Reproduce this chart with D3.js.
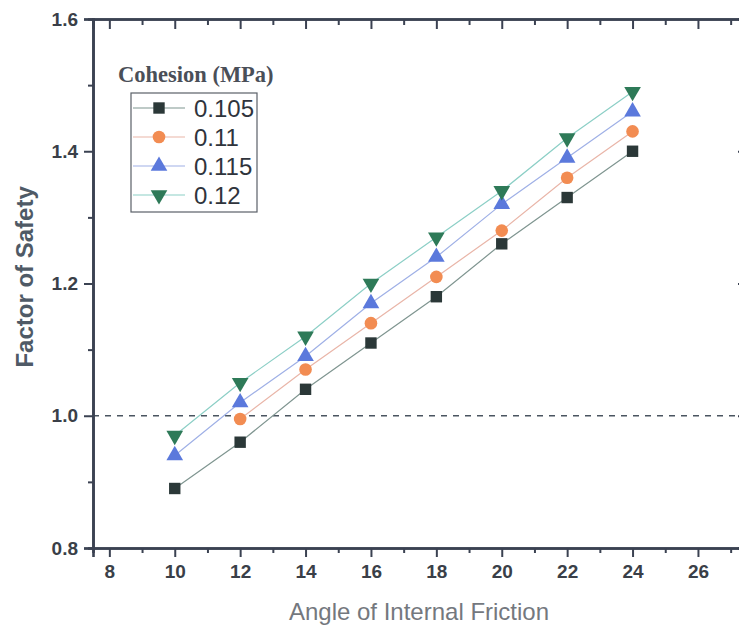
<!DOCTYPE html>
<html>
<head>
<meta charset="utf-8">
<script src="https://cdn.jsdelivr.net/npm/d3@7"></script>
<style>
  body { margin: 0; background: #fff; }
  text { font-family: "Liberation Sans", Arial, sans-serif; }
</style>
</head>
<body>
<div id="chart"></div>
<script>
const angles = [10, 12, 14, 16, 18, 20, 22, 24];
const cohesion = ["0.105", "0.11", "0.115", "0.12"];
const fs105 = [0.89, 0.96, 1.04, 1.11, 1.18, 1.26, 1.33, 1.40];
const fs110 = [null, 0.995, 1.07, 1.14, 1.21, 1.28, 1.36, 1.43];
const fs115 = [0.94, 1.02, 1.09, 1.17, 1.24, 1.32, 1.39, 1.46];
const fs120 = [0.97, 1.05, 1.12, 1.20, 1.27, 1.34, 1.42, 1.49];
const xTicks = [8, 10, 12, 14, 16, 18, 20, 22, 24, 26];
const yTicks = [0.8, 1.0, 1.2, 1.4, 1.6];

const W = 739, H = 627;
const margin = { top: 19, right: -8, bottom: 79, left: 93 };
const width = W - margin.left - margin.right;
const height = H - margin.top - margin.bottom;
const axisColor = "#3b4252";

const series = [
  { name: cohesion[0], values: fs105, symbol: d3.symbolSquare, size: 130, fill: "#2b3838", line: "#7f9590", rot: 0 },
  { name: cohesion[1], values: fs110, symbol: d3.symbolCircle, size: 125, fill: "#f28c52", line: "#e9b5a8", rot: 0 },
  { name: cohesion[2], values: fs115, symbol: d3.symbolTriangle, size: 120, fill: "#5b79dc", line: "#9fb0e6", rot: 0 },
  { name: cohesion[3], values: fs120, symbol: d3.symbolTriangle, size: 120, fill: "#2e7a58", line: "#8ccfc6", rot: 180 }
];

const svg = d3.select("#chart")
  .append("svg")
  .attr("width", W)
  .attr("height", H);

const g = svg.append("g")
  .attr("transform", `translate(${margin.left},${margin.top})`);

const x = d3.scaleLinear().domain([7.5, 27.5]).range([0, width]);
const y = d3.scaleLinear().domain([0.8, 1.6]).range([height, 0]);

// reference line at FS = 1.0
g.append("line")
  .attr("x1", 0).attr("x2", width)
  .attr("y1", y(1.0)).attr("y2", y(1.0))
  .attr("stroke", "#4a5560")
  .attr("stroke-width", 1.3)
  .attr("stroke-dasharray", "6,6");

// series lines
const line = d3.line()
  .defined(d => d.v != null)
  .x(d => x(d.a))
  .y(d => y(d.v));

series.forEach(s => {
  const pts = angles.map((a, i) => ({ a: a, v: s.values[i] }));
  g.append("path")
    .datum(pts)
    .attr("fill", "none")
    .attr("stroke", s.line)
    .attr("stroke-width", 1.2)
    .attr("d", line);
});

series.forEach(s => {
  const pts = angles.map((a, i) => ({ a: a, v: s.values[i] })).filter(d => d.v != null);
  g.selectAll(null)
    .data(pts)
    .enter()
    .append("path")
    .attr("d", d3.symbol().type(s.symbol).size(s.size))
    .attr("transform", d => `translate(${x(d.a)},${y(d.v)}) rotate(${s.rot})`)
    .attr("fill", s.fill);
});

// axes
const minorX = d3.range(9, 28, 2);
const minorY = [0.9, 1.1, 1.3, 1.5];

g.append("g")
  .attr("transform", `translate(0,${height})`)
  .call(d3.axisBottom(x).tickValues(xTicks).tickFormat(d3.format("d")).tickSize(9).tickPadding(8));
g.append("g")
  .attr("transform", `translate(0,${height})`)
  .call(d3.axisBottom(x).tickValues(minorX).tickFormat("").tickSize(5));

g.append("g")
  .call(d3.axisLeft(y).tickValues(yTicks).tickFormat(d3.format(".1f")).tickSize(9).tickPadding(6));
g.append("g")
  .call(d3.axisLeft(y).tickValues(minorY).tickFormat("").tickSize(5));

// top frame with inward ticks
g.append("g")
  .call(d3.axisTop(x).tickValues(xTicks).tickFormat("").tickSize(-10));
g.append("g")
  .call(d3.axisTop(x).tickValues(minorX).tickFormat("").tickSize(-6));

// right frame (mostly outside view)
g.append("g")
  .attr("transform", `translate(${width},0)`)
  .call(d3.axisRight(y).tickValues(yTicks).tickFormat("").tickSize(-9));

g.selectAll(".domain").attr("stroke", axisColor).attr("stroke-width", 2.6);
g.selectAll(".tick line").attr("stroke", axisColor).attr("stroke-width", 2);
g.selectAll(".tick text")
  .attr("fill", "#3a3f48")
  .attr("font-size", 19)
  .attr("font-weight", "bold")
  .style("font-family", "'Liberation Sans', Arial, sans-serif");

// axis titles
svg.append("text")
  .attr("x", 419)
  .attr("y", 620)
  .attr("text-anchor", "middle")
  .attr("font-size", 24)
  .attr("fill", "#74787e")
  .text("Angle of Internal Friction");

svg.append("text")
  .attr("transform", `translate(33,${margin.top + y(1.21)}) rotate(-90)`)
  .attr("text-anchor", "middle")
  .attr("font-size", 24)
  .attr("font-weight", "bold")
  .attr("fill", "#4f5a66")
  .text("Factor of Safety");

// legend
const legend = svg.append("g");
legend.append("text")
  .attr("x", 118)
  .attr("y", 82)
  .attr("font-size", 22.5)
  .attr("font-weight", "bold")
  .attr("fill", "#4a4f58")
  .style("font-family", "'Liberation Serif', 'Times New Roman', serif")
  .text("Cohesion (MPa)");

legend.append("rect")
  .attr("x", 131).attr("y", 93)
  .attr("width", 126).attr("height", 119)
  .attr("fill", "none")
  .attr("stroke", "#5a6068")
  .attr("stroke-width", 1.2);

series.forEach((s, i) => {
  const ly = 108 + i * 29;
  legend.append("line")
    .attr("x1", 133).attr("x2", 185)
    .attr("y1", ly).attr("y2", ly)
    .attr("stroke", s.line)
    .attr("stroke-width", 1.2);
  legend.append("path")
    .attr("d", d3.symbol().type(s.symbol).size(s.size))
    .attr("transform", `translate(159,${ly}) rotate(${s.rot})`)
    .attr("fill", s.fill);
  legend.append("text")
    .attr("x", 194)
    .attr("y", ly + 9)
    .attr("font-size", 24)
    .attr("fill", "#2f343c")
    .text(s.name);
});
</script>
</body>
</html>
